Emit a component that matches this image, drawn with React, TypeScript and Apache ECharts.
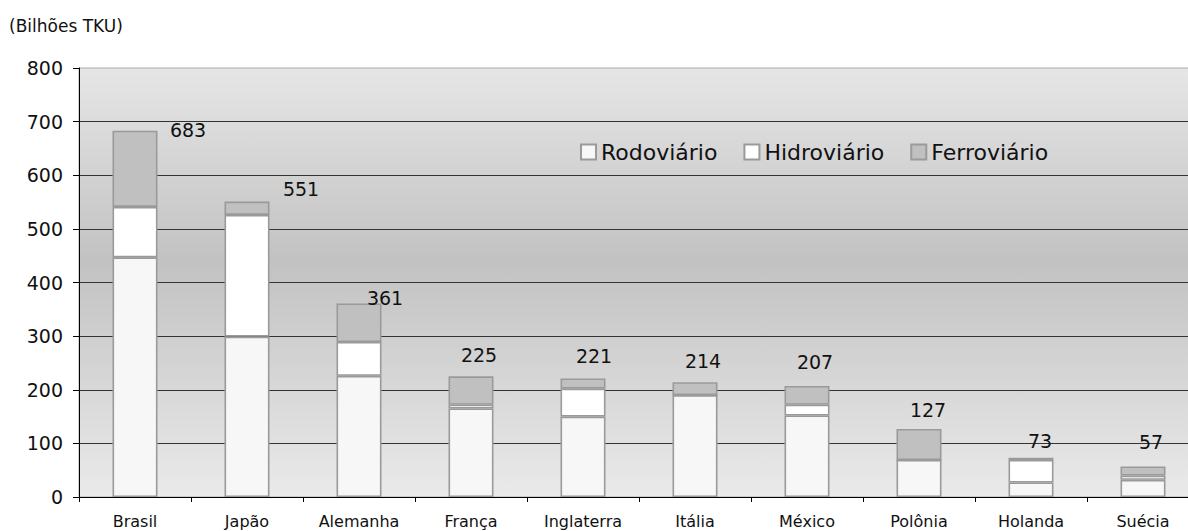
import React, { useEffect, useRef } from "react";
import * as echarts from "echarts";

const categories = ["Brasil", "Japão", "Alemanha", "França", "Inglaterra", "Itália", "México", "Polônia", "Holanda", "Suécia"];
const rodoviario = [447, 299, 226, 165, 150, 190, 152, 69, 27, 32];
const hidroviario = [94, 227, 63, 7, 52, 0, 20, 0, 42, 8];
const ferroviario = [142, 25, 72, 53, 19, 24, 35, 58, 4, 17];
const totals = [683, 551, 361, 225, 221, 214, 207, 127, 73, 57];
const yTicks = [0, 100, 200, 300, 400, 500, 600, 700, 800];

// label placement (style only): offset of each total label from the top of its bar
const labelOffsets: [number, number][] = [
  [53, 9], [54, -3], [26, 4], [8, -12], [11, -13], [8, -12], [8, -14], [9, -9], [9, -7], [8, -15],
];

const FONT = "DejaVu Sans, Verdana, sans-serif";

export default function App() {
  const ref = useRef<HTMLDivElement>(null);
  useEffect(() => {
    if (!ref.current) return;
    const chart = echarts.init(ref.current, undefined, { renderer: "svg" });
    const border = { borderColor: "#9a9a9a", borderWidth: 1.6 };
    chart.setOption({
      animation: false,
      textStyle: { fontFamily: FONT },
      title: {
        text: "(Bilhões TKU)",
        left: 4,
        top: 12,
        textStyle: { fontSize: 17, fontWeight: "normal", color: "#111", fontFamily: FONT },
      },
      legend: {
        left: 575,
        top: 136,
        itemWidth: 15,
        itemHeight: 15,
        itemGap: 26,
        icon: "rect",
        textStyle: { fontSize: 22, color: "#111", fontFamily: FONT },
        data: ["Rodoviário", "Hidroviário", "Ferroviário"],
      },
      grid: {
        left: 79,
        top: 68,
        bottom: 34,
        right: 1,
        outerBoundsMode: "none",
        containLabel: false,
        show: true,
        borderColor: "#aaaaaa",
        borderWidth: 1,
        backgroundColor: new echarts.graphic.LinearGradient(0, 0, 0, 1, [
          { offset: 0, color: "#e6e6e6" },
          { offset: 0.45, color: "#c2c2c2" },
          { offset: 1, color: "#eaeaea" },
        ]),
      },
      xAxis: {
        type: "category",
        data: categories,
        axisLine: { lineStyle: { color: "#000", width: 1 } },
        axisTick: { show: true, length: 5, lineStyle: { color: "#000" } },
        axisLabel: { fontSize: 16, lineHeight: 18, color: "#111", margin: 15, fontFamily: FONT },
      },
      yAxis: {
        type: "value",
        min: yTicks[0],
        max: yTicks[yTicks.length - 1],
        interval: 100,
        axisLine: { show: true, lineStyle: { color: "#000", width: 1 } },
        axisTick: { show: true, length: 6, lineStyle: { color: "#000" } },
        axisLabel: { fontSize: 19, color: "#111", margin: 16, fontFamily: FONT },
        splitLine: { show: true, showMaxLine: false, lineStyle: { color: "#333", width: 1 } },
      },
      series: [
        {
          name: "Rodoviário",
          type: "bar",
          stack: "t",
          barWidth: 45,
          data: rodoviario,
          itemStyle: { color: "#f7f7f7", ...border },
        },
        {
          name: "Hidroviário",
          type: "bar",
          stack: "t",
          barWidth: 45,
          data: hidroviario,
          itemStyle: { color: "#ffffff", ...border },
        },
        {
          name: "Ferroviário",
          type: "bar",
          stack: "t",
          barWidth: 45,
          data: ferroviario.map((v, i) => ({
            value: v,
            label: { offset: labelOffsets[i] },
          })),
          itemStyle: { color: "#c0c0c0", ...border },
          label: {
            show: true,
            position: "top",
            distance: 0,
            fontSize: 19,
            color: "#111",
            fontFamily: FONT,
            formatter: (p: any) => String(totals[p.dataIndex]),
          },
        },
      ],
    });
    return () => chart.dispose();
  }, []);
  return (
    <div
      style={{ position: "fixed", left: 0, top: 0, width: 1188, height: 531, overflow: "hidden", background: "#fff" }}
    >
      <div ref={ref} style={{ width: 1200, height: 531 }} />
    </div>
  );
}
